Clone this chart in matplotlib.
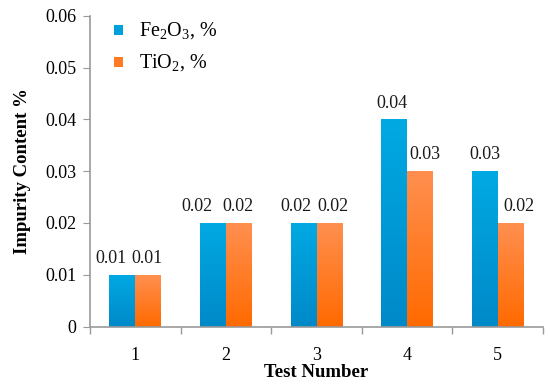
import numpy as np
import matplotlib.pyplot as plt
from matplotlib.colors import LinearSegmentedColormap

plt.rcParams['font.family'] = ['Liberation Serif', 'DejaVu Serif']
plt.rcParams['mathtext.fontset'] = 'custom'
plt.rcParams['mathtext.rm'] = 'Liberation Serif'

# data
tests = ['1', '2', '3', '4', '5']
fe2o3 = [0.01, 0.02, 0.02, 0.04, 0.03]
tio2 = [0.01, 0.02, 0.02, 0.03, 0.02]

# label nudges (px) as placed in the original
fe_dx = [-11, -16, -8, -2, 0]
ti_dx = [-1, -1, 3, 5, 8]

blue_cmap = LinearSegmentedColormap.from_list('b', ['#0089C9', '#00A9E2'])
orange_cmap = LinearSegmentedColormap.from_list('o', ['#FF6A00', '#FF8F4F'])

fig = plt.figure(figsize=(5.5, 3.86), dpi=100)
ax = fig.add_axes([0.164, 0.154, 0.823, 0.805])

x = np.arange(len(tests))
w = 0.287
b1 = ax.bar(x - w / 2, fe2o3, w, color='#00A0DC', label='Fe$_\\mathregular{2}$O$_\\mathregular{3}$, %')
b2 = ax.bar(x + w / 2, tio2, w, color='#FF7A22', label='TiO$_\\mathregular{2}$, %')

# gradient fill on each bar
grad = np.linspace(0, 1, 100).reshape(-1, 1)
for bars, cmap in [(b1, blue_cmap), (b2, orange_cmap)]:
    for r in bars:
        x0, y0 = r.get_x(), r.get_y()
        im = ax.imshow(grad, cmap=cmap, aspect='auto', origin='lower',
                       extent=[x0, x0 + r.get_width(), y0, y0 + r.get_height()],
                       zorder=2)
        im.set_clip_path(r)
        r.set_zorder(1)

for bars, vals, dxs in [(b1, fe2o3, fe_dx), (b2, tio2, ti_dx)]:
    for r, v, dx in zip(bars, vals, dxs):
        ax.annotate(f'{v:.2f}', (r.get_x() + r.get_width() / 2, v),
                    xytext=(dx * 0.72, 8.5), textcoords='offset points',
                    ha='center', va='baseline', fontsize=13, color='#1a1a1a')

ax.set_xlim(-0.5, len(tests) - 0.5)
ax.set_ylim(0, 0.06)
ax.set_yticks(np.arange(0, 0.061, 0.01))
ax.set_yticklabels(['0', '0.01', '0.02', '0.03', '0.04', '0.05', '0.06'])
ax.set_xticks(x)
ax.set_xticklabels(tests)
ax.set_xticks(np.arange(-0.5, len(tests)), minor=True)
ax.tick_params(axis='x', which='major', length=0, pad=15, labelsize=13)
ax.tick_params(axis='x', which='minor', length=5, color='#999999', width=1)
ax.tick_params(axis='y', length=5, color='#999999', labelsize=13, pad=5)

for s in ['top', 'right']:
    ax.spines[s].set_visible(False)
for s in ['left', 'bottom']:
    ax.spines[s].set_color('#999999')
    ax.spines[s].set_linewidth(1.2)

ax.set_xlabel('Test Number', fontsize=13.5, fontweight='bold', labelpad=0)
ax.set_ylabel('Impurity Content %', fontsize=13.5, fontweight='bold', labelpad=10)

leg = ax.legend(loc='upper left', bbox_to_anchor=(0.012, 1.045), frameon=False,
                fontsize=14.5, handlelength=0.6, handleheight=0.6,
                handletextpad=0.65, labelspacing=0.55)
for h in leg.legend_handles:
    h.set_height(7)
    h.set_width(7)

fig.savefig('out.png', dpi=100)
